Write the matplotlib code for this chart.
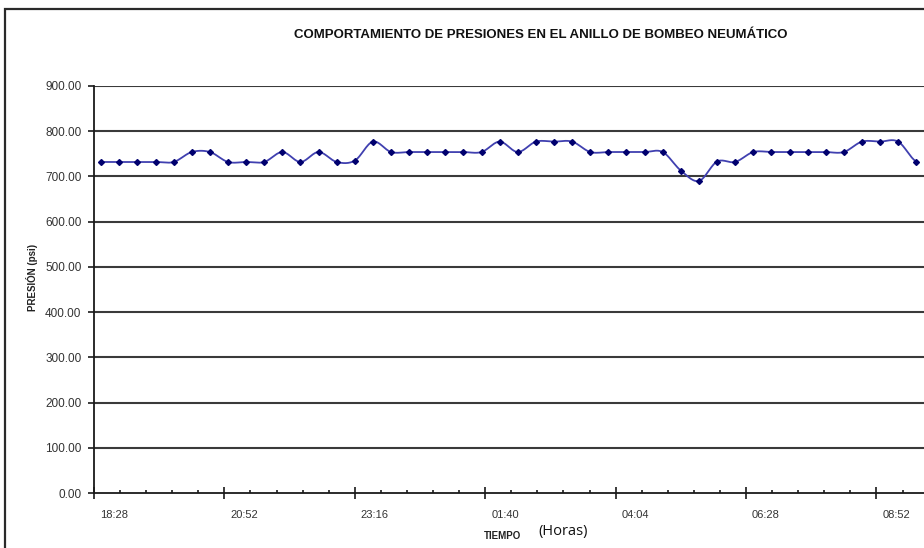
import numpy as np
import matplotlib
matplotlib.use("Agg")
import matplotlib.pyplot as plt
import matplotlib.transforms as mtransforms
from matplotlib.patches import Rectangle
from matplotlib.ticker import FixedLocator, MultipleLocator, FuncFormatter

plt.rcParams['font.family'] = ['Liberation Sans', 'DejaVu Sans']

# Lecturas de presión del anillo (cada 20 minutos)
times = ["18:36", "18:56", "19:16", "19:36", "19:56", "20:16", "20:36", "20:56",
         "21:16", "21:36", "21:56", "22:16", "22:36", "22:56", "23:16", "23:36",
         "23:56", "00:16", "00:36", "00:56", "01:16", "01:36", "01:56", "02:16",
         "02:36", "02:56", "03:16", "03:36", "03:56", "04:16", "04:36", "04:56",
         "05:16", "05:36", "05:56", "06:16", "06:36", "06:56", "07:16", "07:36",
         "07:56", "08:16", "08:36", "08:56", "09:16", "09:36"]
pressure = [732, 732, 732, 732, 732, 754, 754, 732,
            732, 732, 754, 732, 754, 732, 735, 777,
            754, 754, 754, 754, 754, 754, 777, 754,
            777, 777, 777, 754, 754, 754, 754, 754,
            713, 690, 733, 732, 754, 754, 754, 754,
            754, 754, 777, 777, 777, 733]
tick_labels = ["18:28", "20:52", "23:16", "01:40", "04:04", "06:28", "08:52"]
y_ticks = [0, 100, 200, 300, 400, 500, 600, 700, 800, 900]

START = tick_labels[0]


def to_minutes(hhmm, ref=START):
    h, m = map(int, hhmm.split(":"))
    rh, rm = map(int, ref.split(":"))
    t, r = h * 60 + m, rh * 60 + rm
    if t < r:
        t += 1440
    return t - r


def smooth(x, y, n=16):
    """Catmull-Rom curve through the points (smoothed line)."""
    x = np.asarray(x, float)
    y = np.asarray(y, float)
    px = np.concatenate([[2 * x[0] - x[1]], x, [2 * x[-1] - x[-2]]])
    py = np.concatenate([[y[0]], y, [y[-1]]])
    xs, ys = [], []
    t = np.linspace(0, 1, n, endpoint=False)
    for i in range(1, len(px) - 2):
        for arr, out in ((px, xs), (py, ys)):
            p0, p1, p2, p3 = arr[i - 1], arr[i], arr[i + 1], arr[i + 2]
            out.extend(0.5 * ((2 * p1) + (-p0 + p2) * t
                              + (2 * p0 - 5 * p1 + 4 * p2 - p3) * t ** 2
                              + (-p0 + 3 * p1 - 3 * p2 + p3) * t ** 3))
    xs.append(x[-1])
    ys.append(y[-1])
    return np.array(xs), np.array(ys)


x = np.array([to_minutes(t) for t in times])
y = np.array(pressure)
tick_pos = [to_minutes(t) for t in tick_labels]

W, H = 924, 548
fig = plt.figure(figsize=(W / 100, H / 100), dpi=100)

# chart area border
fig.patches.append(Rectangle((5 / W, -0.1), 1.2, 1 - 9 / H + 0.1,
                             transform=fig.transFigure, fill=False,
                             edgecolor='#2a2a2a', linewidth=1.6))

ax_left, ax_right = 94, 94 + 936 * 0.9056
ax = fig.add_axes([ax_left / W, (H - 493) / H, (ax_right - ax_left) / W, 407 / H])
ax.set_xlim(0, 936)
ax.set_ylim(0, 900)

for v in y_ticks[1:]:
    ax.axhline(v, color='#3a3a3a', linewidth=1.5, zorder=1)

sx, sy = smooth(x, y)
ax.plot(sx, sy, color='#4040b0', linewidth=1.3, zorder=3)
ax.plot(x, y, linestyle='none', marker='D', markersize=3.0,
        color='#00006e', zorder=4)

for side in ('top', 'right'):
    ax.spines[side].set_visible(False)
for side in ('left', 'bottom'):
    ax.spines[side].set_color('#1a1a1a')
    ax.spines[side].set_linewidth(1.3)

ax.yaxis.set_major_locator(FixedLocator(y_ticks))
ax.yaxis.set_major_formatter(FuncFormatter(lambda v, p: f"{v:.2f}"))
ax.tick_params(axis='y', direction='out', length=4, width=1.2, color='#1a1a1a',
               labelsize=8.5, labelcolor='#333333', pad=5)

ax.xaxis.set_major_locator(FixedLocator(tick_pos))
ax.set_xticklabels(tick_labels)
ax.xaxis.set_minor_locator(MultipleLocator(28.8))
ax.tick_params(axis='x', which='major', direction='inout', length=8, width=1.2,
               color='#1a1a1a', labelsize=8, labelcolor='#333333', pad=8)
ax.tick_params(axis='x', which='minor', direction='in', length=2.5, width=1.2,
               color='#1a1a1a')
offset = mtransforms.ScaledTranslation(0.2, 0, fig.dpi_scale_trans)
for lab in ax.get_xticklabels():
    lab.set_transform(lab.get_transform() + offset)

fig.text(541 / W, 1 - 35 / H,
         "COMPORTAMIENTO DE PRESIONES EN EL ANILLO DE BOMBEO NEUMÁTICO",
         ha='center', va='center', fontsize=9.5, fontweight='bold', color='#111111')
fig.text(32 / W, 1 - 277 / H, "PRESIÓN (psi)", rotation=90, ha='center',
         va='center', fontsize=7, fontweight='bold', color='#222222')
fig.text(502 / W, 1 - 536 / H, "TIEMPO", ha='center', va='center',
         fontsize=7, fontweight='bold', color='#222222')
fig.text(563 / W, 1 - 532 / H, "(Horas)", ha='center', va='center',
         fontsize=10.5, family=['Open Sans', 'DejaVu Sans'], color='#111111')

fig.savefig("out.png", dpi=100)
